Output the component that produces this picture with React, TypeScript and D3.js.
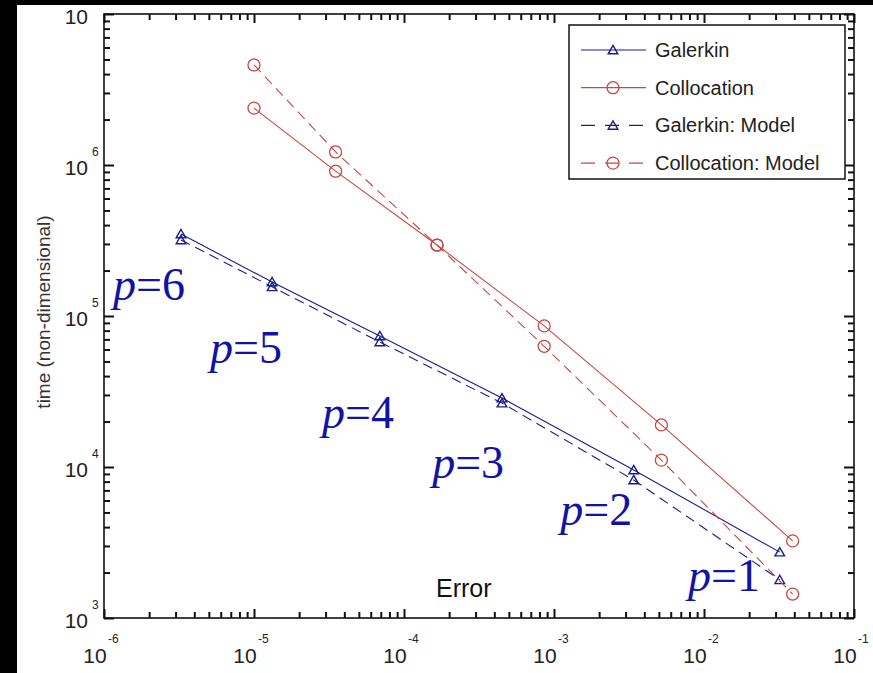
import React, { useEffect, useRef } from "react";
import * as d3 from "d3";

// values (error vs time, log-log)
const degrees = [6, 5, 4, 3, 2, 1];
const errGalerkin = [3.26e-6, 1.32e-5, 6.9e-5, 4.5e-4, 3.4e-3, 3.2e-2];
const timeGalerkin = [3.49e5, 1.68e5, 7.38e4, 2.86e4, 9.55e3, 2.73e3];
const timeGalerkinModel = [3.19e5, 1.56e5, 6.73e4, 2.65e4, 8.2e3, 1.79e3];
const errCollocation = [1.0e-5, 3.5e-5, 1.66e-4, 8.6e-4, 5.2e-3, 3.9e-2];
const timeCollocation = [2.38e6, 9.1e5, 2.95e5, 8.6e4, 1.9e4, 3.24e3];
const timeCollocationModel = [4.6e6, 1.22e6, 2.95e5, 6.3e4, 1.11e4, 1.44e3];

// where the p=... notes sit, in data units
const labelErr = [1.15e-6, 5.09e-6, 2.84e-5, 1.54e-4, 1.1e-3, 7.82e-3];
const labelTime = [1.28e5, 4.89e4, 1.81e4, 8.45e3, 4.13e3, 1.51e3];

const legendNames = ["Galerkin", "Collocation", "Galerkin: Model", "Collocation: Model"];

const BLUE = "#1c1c8a";
const RED = "#c24a44";
const NOTE = "#1212a6";
const SANS = "'Liberation Sans', Arial, sans-serif";

const App = () => {
  const ref = useRef<SVGSVGElement>(null);

  useEffect(() => {
    makeGraph();
  }, []);

  const makeGraph = () => {
    const width = 873;
    const height = 673;
    const plot = { left: 104, right: 854, top: 14, bottom: 618 };

    const svg = d3.select(ref.current).attr("width", width).attr("height", height);
    svg.selectAll("*").remove();

    svg.append("rect").attr("width", width).attr("height", height).attr("fill", "white");

    const x = d3.scaleLog().domain([1e-6, 1e-1]).range([plot.left, plot.right]);
    const y = d3.scaleLog().domain([1e3, 1e7]).range([plot.bottom, plot.top]);

    const isMajor = (d: number) => Math.abs(Math.log10(d) - Math.round(Math.log10(d))) < 1e-9;
    const xMajor = x.ticks().filter(isMajor);
    const yMajor = y.ticks().filter(isMajor);

    // ticks on all four sides, pointing in (d3 axes, inner tick size negative)
    const tickAxis = (axis: any, values: number[], size: number, tr: string) => {
      const g = svg.append("g").attr("transform", tr);
      g.call(axis.tickValues(values).tickSize(-size).tickSizeOuter(0).tickFormat(() => ""));
      g.select(".domain").remove();
      g.selectAll(".tick line").attr("stroke", "#111").attr("stroke-width", 2);
    };
    const xMin = x.ticks().filter((d) => !isMajor(d));
    const yMin = y.ticks().filter((d) => !isMajor(d));
    tickAxis(d3.axisBottom(x), xMajor, 9, `translate(0,${plot.bottom})`);
    tickAxis(d3.axisBottom(x), xMin, 6, `translate(0,${plot.bottom})`);
    tickAxis(d3.axisTop(x), xMajor, 9, `translate(0,${plot.top})`);
    tickAxis(d3.axisTop(x), xMin, 6, `translate(0,${plot.top})`);
    tickAxis(d3.axisLeft(y), yMajor, 10, `translate(${plot.left},0)`);
    tickAxis(d3.axisLeft(y), yMin, 6, `translate(${plot.left},0)`);
    tickAxis(d3.axisRight(y), yMajor, 10, `translate(${plot.right},0)`);
    tickAxis(d3.axisRight(y), yMin, 6, `translate(${plot.right},0)`);

    svg
      .append("rect")
      .attr("x", plot.left)
      .attr("y", plot.top)
      .attr("width", plot.right - plot.left)
      .attr("height", plot.bottom - plot.top)
      .attr("fill", "none")
      .attr("stroke", "#111")
      .attr("stroke-width", 1.6);

    // tick labels 10^n
    const xl = svg.append("g").attr("font-family", SANS).attr("fill", "#222");
    xMajor.forEach((d) => {
      xl.append("text")
        .attr("x", x(d) - 9)
        .attr("y", plot.bottom + 45)
        .attr("text-anchor", "middle")
        .attr("font-size", 21)
        .text("10");
      xl.append("text")
        .attr("x", x(d) + 4)
        .attr("y", plot.bottom + 25)
        .attr("font-size", 12)
        .text(String(Math.round(Math.log10(d))));
    });
    const yl = svg.append("g").attr("font-family", SANS).attr("fill", "#222");
    yMajor.forEach((d) => {
      yl.append("text")
        .attr("x", 88)
        .attr("y", y(d) + 10)
        .attr("text-anchor", "end")
        .attr("font-size", 21)
        .text("10");
      // the top exponent is hidden under the screenshot border
      if (y(d) - 9 > 12)
        yl.append("text")
          .attr("x", 92)
          .attr("y", y(d) - 9)
          .attr("font-size", 12)
          .text(String(Math.round(Math.log10(d))));
    });

    svg
      .append("text")
      .attr("transform", `translate(50,312) rotate(-90)`)
      .attr("text-anchor", "middle")
      .attr("font-family", SANS)
      .attr("font-size", 19)
      .attr("fill", "#333")
      .text("time (non-dimensional)");

    svg
      .append("text")
      .attr("x", 436)
      .attr("y", 597)
      .attr("font-family", SANS)
      .attr("font-size", 25)
      .attr("fill", "#111")
      .text("Error");

    // series
    const series = [
      { err: errGalerkin, time: timeGalerkin, color: BLUE, dash: null, marker: "tri" },
      { err: errCollocation, time: timeCollocation, color: RED, dash: null, marker: "circ" },
      { err: errGalerkin, time: timeGalerkinModel, color: BLUE, dash: "10,6", marker: "tri" },
      { err: errCollocation, time: timeCollocationModel, color: RED, dash: "10,6", marker: "circ" },
    ];

    const tri = d3.symbol().type(d3.symbolTriangle).size(40);

    const drawMarker = (g: any, kind: string, cx: number, cy: number, color: string) => {
      if (kind === "tri") {
        g.append("path")
          .attr("d", tri())
          .attr("transform", `translate(${cx},${cy + 1})`)
          .attr("fill", "none")
          .attr("stroke", color)
          .attr("stroke-width", 1.4);
      } else {
        g.append("circle")
          .attr("cx", cx)
          .attr("cy", cy)
          .attr("r", 6)
          .attr("fill", "none")
          .attr("stroke", color)
          .attr("stroke-width", 1.3);
      }
    };

    series.forEach((s) => {
      const pts = s.err.map((e, i) => [x(e), y(s.time[i])] as [number, number]);
      svg
        .append("path")
        .datum(pts)
        .attr("fill", "none")
        .attr("stroke", s.color)
        .attr("stroke-width", 1.1)
        .attr("stroke-dasharray", s.dash)
        .attr("d", d3.line());
      const g = svg.append("g");
      pts.forEach((p) => drawMarker(g, s.marker, p[0], p[1], s.color));
    });

    // p = ... notes
    const notes = svg
      .append("g")
      .attr("font-family", "'Liberation Serif', 'Times New Roman', serif")
      .attr("font-size", 46)
      .attr("fill", NOTE);
    degrees.forEach((p, i) => {
      const t = notes.append("text").attr("x", x(labelErr[i])).attr("y", y(labelTime[i]));
      t.append("tspan").attr("font-style", "italic").text("p");
      t.append("tspan").text(`=${p}`);
    });

    // legend
    const lg = svg.append("g");
    lg.append("rect")
      .attr("x", 569)
      .attr("y", 25)
      .attr("width", 276)
      .attr("height", 154)
      .attr("fill", "white")
      .attr("stroke", "#111")
      .attr("stroke-width", 1.5);
    series.forEach((s, i) => {
      const ly = 50 + i * 37.7;
      lg.append("line")
        .attr("x1", 581)
        .attr("x2", 646)
        .attr("y1", ly)
        .attr("y2", ly)
        .attr("stroke", s.color)
        .attr("stroke-width", 1.2)
        .attr("stroke-dasharray", s.dash ? "14,10" : null);
      drawMarker(lg, s.marker, 613, ly, s.color);
      lg.append("text")
        .attr("x", 655)
        .attr("y", ly + 7)
        .attr("font-family", SANS)
        .attr("font-size", 20)
        .attr("fill", "#222")
        .text(legendNames[i]);
    });

    // black border of the screenshot
    svg.append("rect").attr("x", 0).attr("y", 0).attr("width", width).attr("height", 5).attr("fill", "black");
    svg.append("rect").attr("x", 0).attr("y", 0).attr("width", 17).attr("height", height).attr("fill", "black");
  };

  return <svg ref={ref} style={{ position: "absolute", left: 0, top: 0 }}></svg>;
};

export default App;
